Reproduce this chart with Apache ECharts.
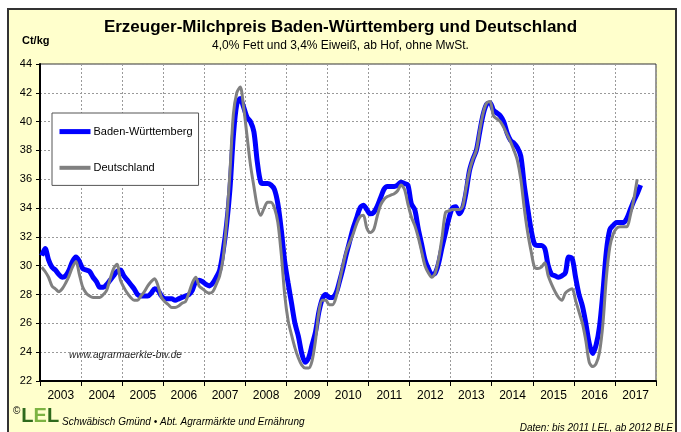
<!DOCTYPE html>
<html>
<head>
<meta charset="utf-8">
<script src="https://cdn.jsdelivr.net/npm/echarts@6/dist/echarts.min.js"></script>
<style>
  html, body { margin: 0; padding: 0; background: #fff; }
  #main { width: 681px; height: 432px; }
</style>
</head>
<body>
<div id="main"></div>
<script>
// Jahre der x-Achse (Monatsdaten Jan 2003 .. Dez 2017)
var years = ['2003', '2004', '2005', '2006', '2007', '2008', '2009', '2010',
             '2011', '2012', '2013', '2014', '2015', '2016', '2017'];
var months = [];
years.forEach(function (y) {
  for (var m = 1; m <= 12; m++) months.push(y + '-' + (m < 10 ? '0' + m : m));
});

// Ct/kg, ab Jan 2003
var bwPrice = [
  30.7, 31.2, 30.4, 29.9, 29.7, 29.4, 29.2, 29.3, 29.7, 30.3, 30.6, 30.3, // 2003
  29.8, 29.7, 29.6, 29.2, 28.9, 28.5, 28.5, 28.7, 29.0, 29.3, 29.6, 29.7, // 2004
  29.3, 29.0, 28.7, 28.4, 28.0, 27.9, 27.9, 27.9, 28.1, 28.4, 28.3, 27.9, // 2005
  27.7, 27.7, 27.7, 27.6, 27.7, 27.8, 27.9, 28.0, 28.3, 28.9, 29.0, 28.9, // 2006
  28.7, 28.6, 28.8, 29.2, 29.7, 31.0, 32.8, 35.3, 39.0, 41.2, 41.6, 41.0, // 2007
  40.3, 40.0, 39.3, 37.2, 35.8, 35.7, 35.7, 35.6, 35.3, 34.3, 32.5, 30.3, // 2008
  28.8, 27.4, 26.0, 25.1, 23.9, 23.3, 23.6, 24.5, 25.4, 26.8, 27.7, 28.0, // 2009
  27.8, 27.8, 28.1, 28.9, 29.8, 30.8, 31.7, 32.6, 33.3, 34.0, 34.2, 33.9, // 2010
  33.6, 33.7, 34.1, 34.7, 35.3, 35.5, 35.5, 35.5, 35.6, 35.8, 35.7, 35.6, // 2011
  34.3, 33.9, 32.6, 31.5, 30.4, 29.8, 29.4, 29.5, 30.2, 31.3, 32.3, 33.3, // 2012
  34.0, 34.1, 33.6, 34.0, 35.1, 36.6, 37.4, 38.0, 39.3, 40.5, 41.2, 41.3, // 2013
  40.8, 40.6, 40.4, 40.0, 39.2, 38.7, 38.5, 38.2, 37.6, 35.6, 34.0, 32.5, // 2014
  31.5, 31.4, 31.4, 31.2, 30.0, 29.4, 29.3, 29.2, 29.3, 29.5, 30.6, 30.5, // 2015
  29.2, 28.0, 27.2, 26.0, 24.6, 23.9, 24.5, 25.8, 28.2, 31.0, 32.5, 32.8, // 2016
  33.0, 33.0, 33.0, 33.3, 33.9, 34.5, 35.0, 35.6                          // 2017
];
var dePrice = [
  29.9, 29.6, 29.2, 28.6, 28.4, 28.2, 28.4, 28.8, 29.3, 29.9, 30.3, 29.4, // 2003
  28.5, 28.1, 27.9, 27.8, 27.8, 27.8, 28.0, 28.3, 29.1, 29.8, 30.1, 29.0, // 2004
  28.5, 28.1, 27.8, 27.6, 27.6, 27.9, 28.2, 28.6, 28.9, 29.1, 28.6, 27.8, // 2005
  27.5, 27.3, 27.1, 27.1, 27.2, 27.4, 27.5, 28.1, 28.8, 29.2, 28.6, 28.4, // 2006
  28.2, 28.1, 28.2, 28.7, 29.3, 30.5, 33.0, 36.5, 40.5, 42.0, 42.4, 41.0, // 2007
  39.0, 37.0, 35.5, 34.1, 33.5, 34.0, 34.4, 34.4, 34.0, 33.0, 30.8, 28.0, // 2008
  26.2, 25.2, 24.3, 23.6, 23.1, 22.9, 22.9, 23.4, 24.8, 26.8, 27.6, 27.6, // 2009
  27.3, 27.3, 27.8, 28.9, 30.0, 31.0, 31.6, 32.2, 32.9, 33.4, 33.5, 32.6, // 2010
  32.3, 32.5, 33.4, 34.2, 34.6, 34.8, 34.9, 35.0, 35.2, 35.6, 35.3, 34.3, // 2011
  33.4, 32.8, 32.0, 31.0, 30.0, 29.5, 29.2, 29.5, 30.5, 32.0, 33.7, 33.8, // 2012
  33.9, 33.9, 33.9, 34.1, 35.4, 36.6, 37.4, 38.0, 39.4, 40.6, 41.3, 41.4, // 2013
  40.4, 40.2, 40.0, 39.6, 39.1, 38.6, 38.0, 37.3, 36.0, 34.0, 32.3, 31.0, // 2014
  29.9, 29.8, 29.9, 30.2, 29.3, 28.7, 28.2, 27.8, 27.6, 28.1, 28.3, 28.4, // 2015
  27.6, 26.8, 26.0, 24.8, 23.3, 23.0, 23.2, 24.0, 26.0, 29.2, 31.3, 32.2, // 2016
  32.6, 32.7, 32.7, 32.7, 33.5, 34.6, 36.0                                // 2017
];

var font = '"Liberation Sans", Arial, sans-serif';
var chart = echarts.init(document.getElementById('main'));

var option = {
  backgroundColor: '#fff',
  animation: false,
  textStyle: { fontFamily: font },
  graphic: [
    { type: 'rect', z: -10, shape: { x: 8, y: 9, width: 668, height: 440 },
      style: { fill: '#FFFFCC', stroke: '#333', lineWidth: 2 } },
    { type: 'text', left: 'center', top: 19,
      style: { text: 'Erzeuger-Milchpreis Baden-Württemberg und Deutschland',
               font: 'bold 17px ' + font, fill: '#000' } },
    { type: 'text', left: 'center', top: 40,
      style: { text: '4,0% Fett und 3,4% Eiweiß, ab Hof, ohne MwSt.',
               font: '12px ' + font, fill: '#000' } },
    { type: 'text', left: 22, top: 35,
      style: { text: 'Ct/kg', font: 'bold 11px ' + font, fill: '#000' } },
    { type: 'text', left: 69, top: 350,
      style: { text: 'www.agrarmaerkte-bw.de', font: 'italic 10px ' + font, fill: '#222' } },
    { type: 'text', left: 13, top: 406,
      style: {
        text: '{c|©}{l|L}{e|E}{l|L}',
        rich: {
          c: { fontSize: 10, fill: '#000', verticalAlign: 'top', padding: [0, 1, 8, 0] },
          l: { fontSize: 20, fontWeight: 'bold', fill: '#2f6a1c' },
          e: { fontSize: 20, fontWeight: 'bold', fill: '#7cb342' }
        }
      } },
    { type: 'text', left: 62, top: 417,
      style: { text: 'Schwäbisch Gmünd • Abt. Agrarmärkte und Ernährung',
               font: 'italic 10px ' + font, fill: '#000' } },
    { type: 'text', right: 8, top: 423,
      style: { text: 'Daten: bis 2011 LEL, ab 2012 BLE',
               font: 'italic 10px ' + font, fill: '#000' } }
  ],
  legend: {
    data: [
      { name: 'Baden-Württemberg', lineStyle: { width: 5 } },
      { name: 'Deutschland', lineStyle: { width: 4 } }
    ],
    orient: 'vertical',
    left: 52,
    top: 113,
    padding: [13, 6, 12, 5],
    itemWidth: 31,
    itemHeight: 14,
    itemGap: 25,
    backgroundColor: '#fff',
    borderColor: '#555',
    borderWidth: 1,
    borderRadius: 0,
    itemStyle: { opacity: 0 },
    textStyle: { fontSize: 11, color: '#000', fontFamily: font, padding: [0, 0, 0, -2] }
  },
  grid: {
    left: 40, right: 25, top: 64, bottom: 51,
    show: true,
    backgroundColor: '#fff',
    borderColor: '#333',
    borderWidth: 1,
    containLabel: false
  },
  xAxis: {
    type: 'category',
    data: months,
    boundaryGap: true,
    axisLine: { lineStyle: { color: '#000', width: 2 } },
    axisTick: {
      show: true,
      length: 5,
      interval: function (idx) { return idx % 12 === 0; },
      lineStyle: { color: '#000' }
    },
    axisLabel: {
      interval: function (idx) { return idx % 12 === 6; },
      formatter: function (v) { return v.slice(0, 4); },
      fontSize: 12,
      color: '#000',
      margin: 9,
      padding: [0, 3, 0, 0]
    },
    splitLine: {
      show: true,
      interval: function (idx) { return idx % 12 === 0; },
      lineStyle: { color: '#9a9a9a', type: [2, 2] }
    }
  },
  yAxis: {
    type: 'value',
    min: 22,
    max: 44,
    interval: 2,
    axisLine: { show: true, lineStyle: { color: '#000', width: 2 } },
    axisTick: { show: true, length: 4, lineStyle: { color: '#000' } },
    axisLabel: { fontSize: 11, color: '#000', margin: 8 },
    splitLine: { show: true, lineStyle: { color: '#9a9a9a', type: [2, 2] } }
  },
  series: [
    {
      name: 'Baden-Württemberg',
      type: 'line',
      data: bwPrice,
      symbol: 'none',
      smooth: 0.3,
      lineStyle: { color: '#0000FF', width: 5 },
      itemStyle: { color: '#0000FF' }
    },
    {
      name: 'Deutschland',
      type: 'line',
      data: dePrice,
      symbol: 'none',
      smooth: 0.3,
      lineStyle: { color: '#808080', width: 3 },
      itemStyle: { color: '#808080' }
    }
  ]
};

chart.setOption(option);
</script>
</body>
</html>
